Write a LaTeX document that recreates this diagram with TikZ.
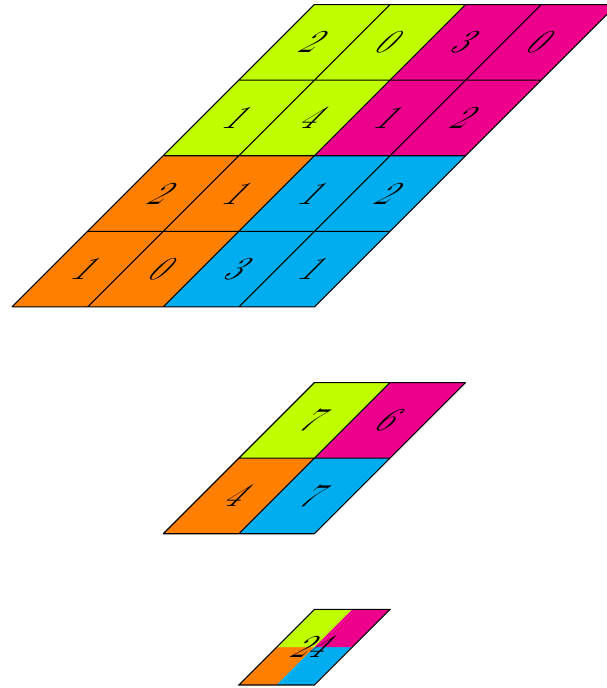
\documentclass[tikz,border=0pt]{standalone}
\usepackage{tikz}
\definecolor{qlime}{HTML}{BFFF00}
\definecolor{qmagenta}{HTML}{EC008C}
\definecolor{qorange}{HTML}{FF8000}
\definecolor{qcyan}{HTML}{00AEEF}

\begin{document}
\begin{tikzpicture}[
  num/.style={transform shape, inner sep=0pt, font=\large},
  gridline/.style={black, line width=0.4pt}
]
  \useasboundingbox (-0.159,-0.04) rectangle (7.857,9.06);

  % input 4x4
  \begin{scope}[shift={(0,5)}, xslant=1]
    \fill[qorange] (0,0) rectangle (2,2);
    \fill[qcyan] (2,0) rectangle (4,2);
    \fill[qlime] (0,2) rectangle (2,4);
    \fill[qmagenta] (2,2) rectangle (4,4);
    \draw[gridline] (0,0) grid (4,4);
    \foreach \x/\y/\v in {0/3/2, 1/3/0, 2/3/3, 3/3/0,
                          0/2/1, 1/2/4, 2/2/1, 3/2/2,
                          0/1/2, 1/1/1, 2/1/1, 3/1/2,
                          0/0/1, 1/0/0, 2/0/3, 3/0/1}
      \node[num] (in-\x-\y) at (\x+0.5,\y+0.5) {\v};
  \end{scope}

  % pooled 2x2
  \begin{scope}[shift={(2,2)}, xslant=1]
    \fill[qorange] (0,0) rectangle (1,1);
    \fill[qcyan] (1,0) rectangle (2,1);
    \fill[qlime] (0,1) rectangle (1,2);
    \fill[qmagenta] (1,1) rectangle (2,2);
    \draw[gridline] (0,0) grid (2,2);
    \node[num] (pool-0-1) at (0.5,1.5) {7};
    \node[num] (pool-1-1) at (1.5,1.5) {6};
    \node[num] (pool-0-0) at (0.5,0.5) {4};
    \node[num] (pool-1-0) at (1.5,0.5) {7};
  \end{scope}

  % total
  \begin{scope}[shift={(3,0)}, xslant=1]
    \fill[qorange] (0,0) rectangle (0.5,0.5);
    \fill[qcyan] (0.5,0) rectangle (1,0.5);
    \fill[qlime] (0,0.5) rectangle (0.5,1);
    \fill[qmagenta] (0.5,0.5) rectangle (1,1);
    \draw[gridline] (0,0) rectangle (1,1);
    \node[num] (total) at (0.5,0.5) {24};
  \end{scope}
\end{tikzpicture}
\end{document}
